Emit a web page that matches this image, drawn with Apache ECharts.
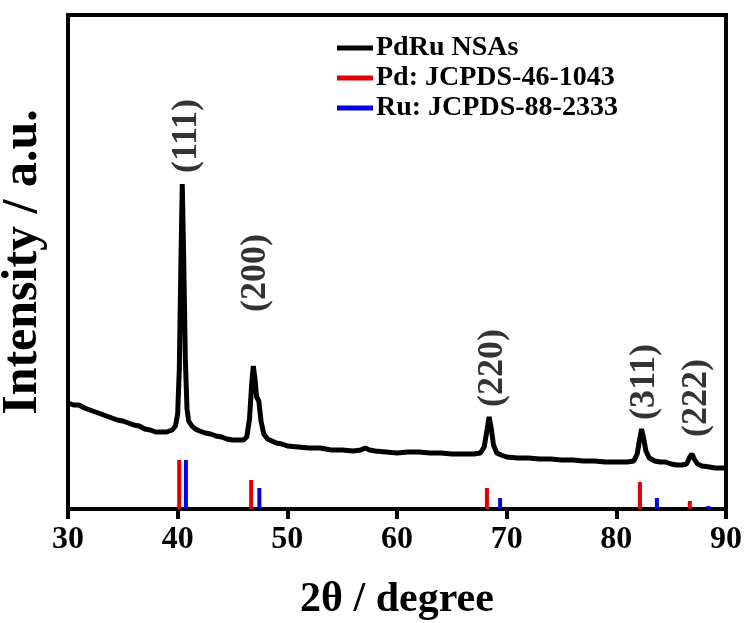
<!DOCTYPE html>
<html>
<head>
<meta charset="utf-8">
<script src="https://cdn.jsdelivr.net/npm/echarts@6/dist/echarts.min.js"></script>
<style>
  html, body { margin: 0; padding: 0; background: #fff; }
  #chart { width: 747px; height: 623px; }
</style>
</head>
<body>
<div id="chart"></div>
<script>
// Datos del patrón XRD (2θ, intensidad en unidades arbitrarias)
const twoTheta = [30.0, 30.5, 31.0, 31.5, 32.0, 32.5, 33.0, 33.5, 34.0, 34.5, 35.0, 35.5, 36.0, 36.5, 37.0, 37.5, 38.0, 38.5, 39.0, 39.5, 39.8, 40.0, 40.15, 40.3, 40.42, 40.55, 40.7, 40.85, 41.0, 41.3, 41.6, 42.0, 42.5, 43.0, 43.5, 44.0, 44.5, 45.0, 45.5, 46.0, 46.3, 46.55, 46.75, 46.9, 47.05, 47.2, 47.4, 47.6, 47.85, 48.2, 48.6, 49.0, 49.5, 50.0, 51.0, 52.0, 53.0, 54.0, 55.0, 56.0, 56.7, 57.1, 57.5, 58.0, 59.0, 60.0, 61.0, 62.0, 63.0, 64.0, 65.0, 66.0, 67.0, 67.6, 67.95, 68.15, 68.4, 68.6, 68.8, 69.1, 69.5, 70.0, 71.0, 72.0, 73.0, 74.0, 75.0, 76.0, 77.0, 78.0, 79.0, 80.0, 81.0, 81.6, 81.9, 82.1, 82.3, 82.5, 82.7, 83.0, 83.5, 84.0, 84.5, 85.0, 85.5, 86.0, 86.4, 86.7, 86.9, 87.1, 87.4, 87.8, 88.5, 89.0, 89.5, 90.0];
const intensity = [106, 104, 104, 101, 99, 97, 95, 93, 91, 89, 88, 86, 84, 83, 80, 79, 77, 77, 77, 79, 83, 95, 140, 250, 325, 250, 150, 100, 88, 83, 80, 78, 76, 75, 73, 72, 70, 69, 69, 69, 72, 90, 125, 143, 130, 112, 108, 88, 75, 70, 68, 66, 65, 63, 62, 61, 61, 59, 59, 58, 59, 61, 59, 58, 57, 56, 57, 57, 56, 56, 55, 55, 55, 56, 62, 75, 92, 80, 64, 56, 54, 52, 51, 51, 50, 50, 49, 49, 48, 48, 47, 47, 47, 48, 55, 68, 80, 70, 58, 51, 48, 47, 47, 45, 44, 44, 45, 52, 55, 50, 45, 43, 42, 41, 41, 41];

// Patrones de referencia (posición, altura)
const pdPos = [40.14, 46.7, 68.2, 82.15, 86.7];
const pdInt = [49, 29, 21, 27, 8];
const ruPos = [40.75, 47.45, 69.4, 83.7, 88.4];
const ruInt = [49, 21, 11, 11, 3];

// Etiquetas de planos
const hklNames = ['(111)', '(200)', '(220)', '(311)', '(222)'];
const hklX = [40.78, 47.08, 68.72, 82.6, 87.35];
const hklY = [336, 197, 102, 89, 72];

const FONT = '"Liberation Serif", "Times New Roman", serif';

const chart = echarts.init(document.getElementById('chart'));

function stickSeries(name, color, pos, val) {
    return {
        name: name,
        type: 'custom',
        itemStyle: { color: color },
        data: pos.map((p, i) => [p, val[i]]),
        renderItem: function(params, api) {
            const base = api.coord([api.value(0), 0]);
            const top = api.coord([api.value(0), api.value(1)]);
            return {
                type: 'rect',
                shape: { x: base[0] - 2, y: top[1], width: 4, height: base[1] - top[1] },
                style: { fill: color }
            };
        },
        z: 3
    };
}

const option = {
    animation: false,
    backgroundColor: '#fff',
    grid: {
        left: 68, right: 21, top: 15, bottom: 114,
        outerBoundsMode: 'none',
        show: true, borderColor: '#000', borderWidth: 4
    },
    legend: {
        orient: 'vertical',
        left: 337, top: 34,
        padding: 0,
        itemWidth: 36, itemHeight: 5, itemGap: 2,
        icon: 'rect',
        data: ['PdRu NSAs', 'Pd: JCPDS-46-1043', 'Ru: JCPDS-88-2333'],
        textStyle: { fontFamily: FONT, fontWeight: 'bold', fontSize: 28, color: '#000', padding: [0, 0, 0, -2] }
    },
    xAxis: {
        type: 'value',
        min: 30, max: 90, interval: 10,
        name: '2θ / degree',
        nameLocation: 'middle',
        nameGap: 70,
        nameTextStyle: { fontFamily: FONT, fontWeight: 'bold', fontSize: 42, color: '#000' },
        axisLine: { lineStyle: { color: '#000', width: 4 } },
        axisTick: { inside: false, length: 10, lineStyle: { color: '#000', width: 4 } },
        axisLabel: { fontFamily: FONT, fontWeight: 'bold', fontSize: 32, color: '#000', margin: 15 },
        splitLine: { show: false }
    },
    yAxis: {
        type: 'value',
        min: 0, max: 494,
        name: 'Intensity / a.u.',
        nameLocation: 'middle',
        nameGap: 20,
        nameTextStyle: { fontFamily: FONT, fontWeight: 'bold', fontSize: 50, color: '#000' },
        axisLine: { show: true, lineStyle: { color: '#000', width: 4 } },
        axisTick: { show: false },
        axisLabel: { show: false },
        splitLine: { show: false }
    },
    series: [
        {
            name: 'PdRu NSAs',
            type: 'line',
            data: twoTheta.map((t, i) => [t, intensity[i]]),
            showSymbol: false,
            lineStyle: { color: '#000', width: 5 },
            itemStyle: { color: '#000' },
            z: 4
        },
        stickSeries('Pd: JCPDS-46-1043', '#e00000', pdPos, pdInt),
        stickSeries('Ru: JCPDS-88-2333', '#0000e0', ruPos, ruInt),
        {
            name: 'hkl',
            type: 'scatter',
            symbolSize: 0,
            data: hklX.map((x, i) => ({ value: [x, hklY[i]], name: hklNames[i] })),
            label: {
                show: true,
                position: 'inside',
                rotate: 90,
                align: 'left',
                verticalAlign: 'middle',
                formatter: '{b}',
                fontFamily: FONT, fontWeight: 'bold', fontSize: 36, color: '#000'
            },
            z: 5
        }
    ]
};

chart.setOption(option);
</script>
</body>
</html>
